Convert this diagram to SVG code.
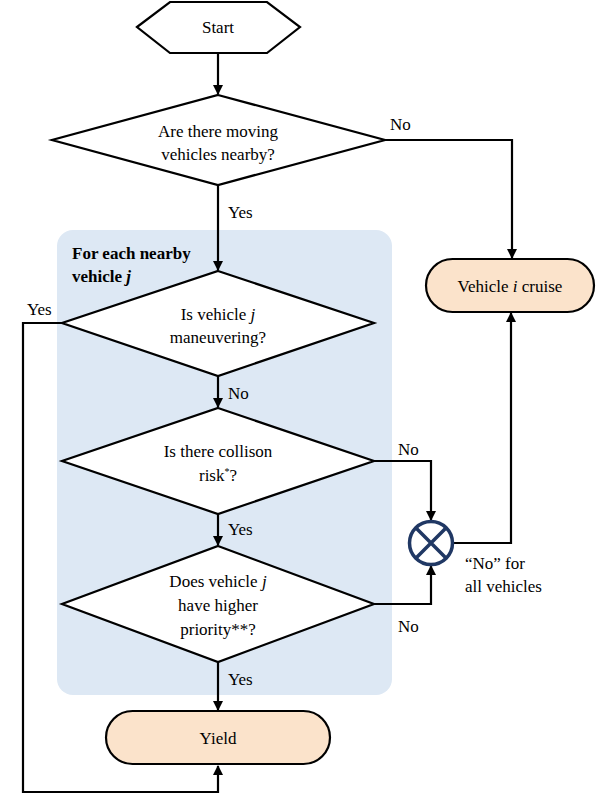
<svg xmlns="http://www.w3.org/2000/svg" width="598" height="794" viewBox="0 0 598 794">
<style>
text{font-family:'Liberation Serif','DejaVu Serif',serif;font-size:17px;fill:#000}
.c{text-anchor:middle}
.shape{stroke:#000;stroke-width:2.2;fill:#fff}
.term{stroke:#000;stroke-width:2.2;fill:#fbe3cb}
.ln{stroke:#000;stroke-width:2.2;fill:none}
</style>
<defs>
<marker id="ah" markerWidth="10" markerHeight="10" refX="9" refY="5" orient="auto" markerUnits="userSpaceOnUse">
<path d="M0,0 L10,5 L0,10 z" fill="#000"/>
</marker>
</defs>
<g font-family="'Liberation Serif','DejaVu Serif',serif">
<rect id="loop-box" x="57" y="230" width="335" height="465" rx="16" fill="#dde8f4"/>
<text x="72" y="259" font-weight="bold">For each nearby</text>
<text x="72" y="282" font-weight="bold">vehicle <tspan font-style="italic">j</tspan></text>
<g id="connectors">
<path class="ln" d="M218,54 V94" marker-end="url(#ah)"/>
<path class="ln" d="M385,140 H512 V258" marker-end="url(#ah)"/>
<path class="ln" d="M218,185 V270" marker-end="url(#ah)"/>
<path class="ln" d="M218,376 V407" marker-end="url(#ah)"/>
<path class="ln" d="M374,461 H431 V520" marker-end="url(#ah)"/>
<path class="ln" d="M218,514 V545" marker-end="url(#ah)"/>
<path class="ln" d="M374,604 H431 V566" marker-end="url(#ah)"/>
<path class="ln" d="M452,543 H511 V313" marker-end="url(#ah)"/>
<path class="ln" d="M218,662 V710" marker-end="url(#ah)"/>
<path class="ln" d="M62,323 H23 V792 H218 V766" marker-end="url(#ah)"/>
</g>
<g id="labels">
<text x="390" y="130">No</text>
<text x="228" y="218">Yes</text>
<text x="27" y="315">Yes</text>
<text x="228" y="399">No</text>
<text x="398" y="455">No</text>
<text x="228" y="535">Yes</text>
<text x="398" y="632">No</text>
<text x="228" y="685">Yes</text>
<text x="465" y="569">“No” for</text>
<text x="465" y="592">all vehicles</text>
</g>
<g id="start">
<polygon class="shape" points="137,27 170,2 267,2 300,27 267,53 170,53"/>
<text class="c" x="218" y="33">Start</text>
</g>
<g id="q-moving">
<polygon class="shape" points="218,95 385,140 218,185 52,140"/>
<text class="c" x="218" y="137">Are there moving</text>
<text class="c" x="218" y="160">vehicles nearby?</text>
</g>
<g id="cruise">
<rect class="term" x="426" y="259" width="168" height="53" rx="26.5"/>
<text class="c" x="510" y="292">Vehicle <tspan font-style="italic">i</tspan> cruise</text>
</g>
<g id="q-maneuver">
<polygon class="shape" points="218,271 374,323 218,376 62,323"/>
<text class="c" x="218" y="320">Is vehicle <tspan font-style="italic">j</tspan></text>
<text class="c" x="218" y="343">maneuvering?</text>
</g>
<g id="q-risk">
<polygon class="shape" points="218,408 374,461 218,514 62,461"/>
<text class="c" x="218" y="457">Is there collison</text>
<text class="c" x="218" y="481">risk<tspan font-size="10" dy="-6">*</tspan><tspan dy="6">?</tspan></text>
</g>
<g id="q-priority">
<polygon class="shape" points="218,546 374,604 218,662 62,604"/>
<text class="c" x="218" y="587">Does vehicle <tspan font-style="italic">j</tspan></text>
<text class="c" x="218" y="611">have higher</text>
<text class="c" x="218" y="635">priority**?</text>
</g>
<g id="merge">
<circle cx="431" cy="543" r="21.5" fill="#fff" stroke="#203864" stroke-width="3.5"/>
<path d="M415.8,527.8 L446.2,558.2 M446.2,527.8 L415.8,558.2" stroke="#203864" stroke-width="3.5"/>
</g>
<g id="yield">
<rect class="term" x="106" y="711" width="224" height="53" rx="26.5"/>
<text class="c" x="218" y="744">Yield</text>
</g>
</g>
</svg>
